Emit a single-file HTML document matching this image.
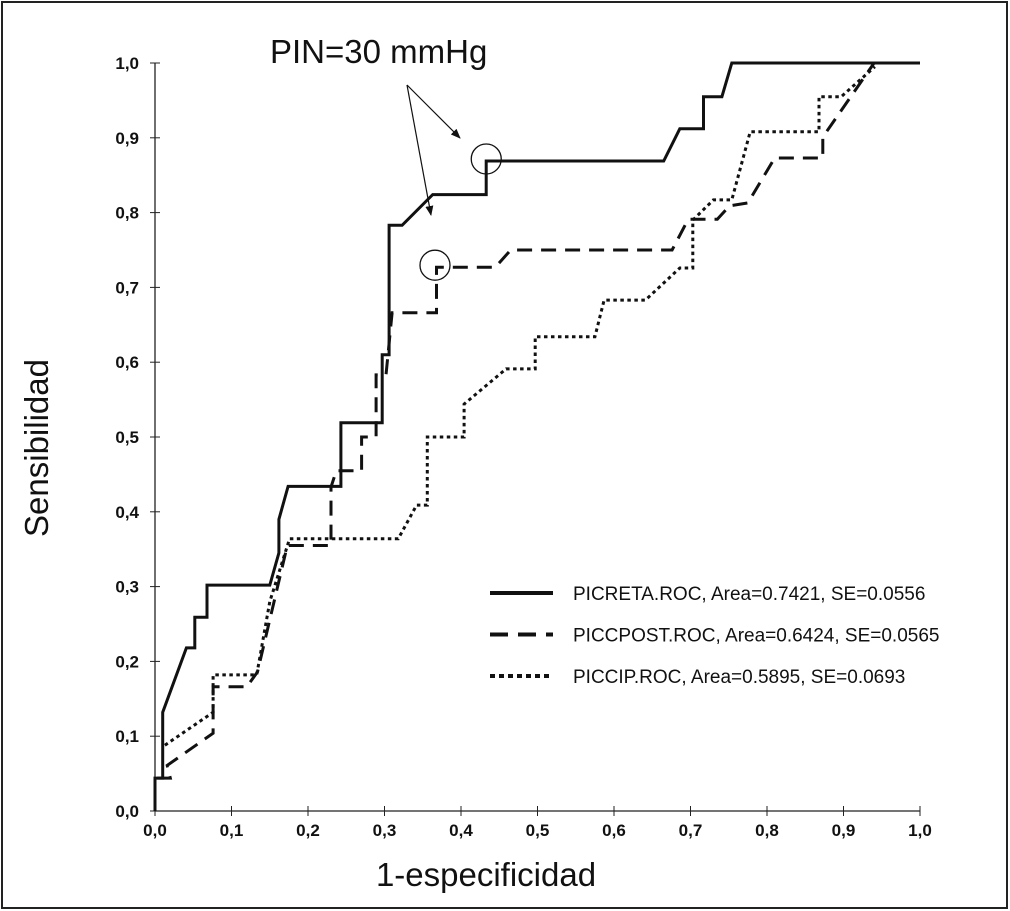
<!DOCTYPE html>
<html><head><meta charset="utf-8"><style>
html,body{margin:0;padding:0;background:#fff;}
svg{display:block;}
text{font-family:"Liberation Sans",Arial,sans-serif;}
</style></head><body>
<svg id="chart" width="1010" height="911" viewBox="0 0 1010 911" xmlns="http://www.w3.org/2000/svg">
<rect x="2" y="2" width="1005" height="906" fill="#fff" stroke="#222" stroke-width="2"/>
<g id="axes"></g>
<g id="series"></g>
<text x="270" y="63" font-size="33" fill="#111">PIN=30 mmHg</text>
<text x="0" y="0" transform="translate(48,448) rotate(-90)" text-anchor="middle" font-size="33" fill="#111">Sensibilidad</text>
<text x="486" y="886" text-anchor="middle" font-size="33" fill="#111">1-especificidad</text>
<g id="legend"></g>
</svg>
<script>
const xTicks=[0,0.1,0.2,0.3,0.4,0.5,0.6,0.7,0.8,0.9,1.0];
const yTicks=[0,0.1,0.2,0.3,0.4,0.5,0.6,0.7,0.8,0.9,1.0];
const seriesNames=["PICRETA.ROC, Area=0.7421, SE=0.0556","PICCPOST.ROC, Area=0.6424, SE=0.0565","PICCIP.ROC, Area=0.5895, SE=0.0693"];
const picretaX=[0,0,0.010,0.010,0.041,0.052,0.052,0.068,0.068,0.150,0.162,0.162,0.174,0.243,0.243,0.297,0.297,0.306,0.306,0.323,0.363,0.433,0.433,0.665,0.686,0.717,0.717,0.741,0.754,1];
const picretaY=[0,0.044,0.044,0.132,0.218,0.218,0.259,0.259,0.302,0.302,0.345,0.390,0.434,0.434,0.519,0.519,0.610,0.610,0.783,0.783,0.824,0.824,0.869,0.869,0.912,0.912,0.955,0.955,1,1];
const piccpostX=[0.003,0.020,0.016,0.076,0.076,0.120,0.134,0.173,0.230,0.230,0.237,0.270,0.270,0.289,0.289,0.302,0.310,0.368,0.368,0.445,0.465,0.676,0.697,0.735,0.751,0.775,0.810,0.873,0.873,0.940,1];
const piccpostY=[0.044,0.044,0.061,0.104,0.166,0.166,0.186,0.355,0.355,0.433,0.455,0.455,0.500,0.500,0.583,0.583,0.666,0.666,0.727,0.727,0.750,0.750,0.791,0.791,0.809,0.813,0.873,0.873,0.901,1,1];
const piccipX=[0.013,0.076,0.076,0.133,0.150,0.176,0.318,0.342,0.356,0.356,0.404,0.404,0.459,0.497,0.497,0.575,0.587,0.641,0.686,0.703,0.703,0.730,0.754,0.778,0.868,0.868,0.897,0.941];
const piccipY=[0.088,0.132,0.182,0.182,0.280,0.364,0.364,0.409,0.409,0.500,0.500,0.544,0.591,0.591,0.634,0.634,0.683,0.683,0.726,0.726,0.790,0.817,0.817,0.908,0.908,0.955,0.955,0.995];
const annoPoints=[[0.433,0.869],[0.366,0.727]];

const NS="http://www.w3.org/2000/svg";
const X0=155,X1=920,Y0=811,Y1=63;
function sx(v){return X0+(X1-X0)*v;}
function sy(v){return Y0-(Y0-Y1)*v;}
function mk(tag,attrs,parent){const e=document.createElementNS(NS,tag);for(const k in attrs)e.setAttribute(k,attrs[k]);parent.appendChild(e);return e;}
function fmt(v){return v.toFixed(1).replace('.',',');}
const axes=document.getElementById('axes');
let l=mk('line',{x1:X0,y1:Y0,x2:X1,y2:Y0,stroke:'#222','stroke-width':1.3},axes);


l=mk('line',{x1:X0,y1:Y0,x2:X0,y2:Y1,stroke:'#222','stroke-width':1.3},axes);


xTicks.forEach(v=>{
  const t=mk('line',{x1:sx(v),y1:Y0-5,x2:sx(v),y2:Y0+5,stroke:'#222','stroke-width':1},axes);
  
  
  const tx=mk('text',{x:sx(v),y:Y0+25,'text-anchor':'middle','font-size':17,'font-weight':'bold',fill:'#111'},axes);
  tx.textContent=fmt(v);
  
  
});
yTicks.forEach(v=>{
  const t=mk('line',{x1:X0-5,y1:sy(v),x2:X0+5,y2:sy(v),stroke:'#222','stroke-width':1},axes);
  
  
  const tx=mk('text',{x:X0-16,y:sy(v)+6,'text-anchor':'end','font-size':17,'font-weight':'bold',fill:'#111'},axes);
  tx.textContent=fmt(v);
  
  
});
const ser=document.getElementById('series');
const styles=[{w:3,d:''},{w:3,d:'15 9'},{w:3,d:'3.5 3.5'}];
const data=[[picretaX,picretaY,'picreta-line'],[piccpostX,piccpostY,'piccpost-line'],[piccipX,piccipY,'piccip-line']];
data.forEach((s,i)=>{
  const pts=s[0].map((x,j)=>sx(x).toFixed(1)+','+sy(s[1][j]).toFixed(1)).join(' ');
  const p=mk('polyline',{points:pts,fill:'none',stroke:'#111','stroke-width':styles[i].w,'stroke-dasharray':styles[i].d,'stroke-linejoin':'miter'},ser);
  
  
});
annoPoints.forEach((a,i)=>{
  const c=mk('circle',{cx:sx(a[0]),cy:sy(a[1])-2,r:15,fill:'none',stroke:'#111','stroke-width':1.3},ser);
  
  
});
const defs=mk('defs',{},document.getElementById('chart'));
const mkr=mk('marker',{id:'ah',markerWidth:10,markerHeight:8,refX:9,refY:4,orient:'auto',markerUnits:'userSpaceOnUse'},defs);
mk('path',{d:'M0,0 L10,4 L0,8 Z',fill:'#111'},mkr);
[[407,85,460,138],[407,85,431,215]].forEach(a=>{
  const ar=mk('line',{x1:a[0],y1:a[1],x2:a[2],y2:a[3],stroke:'#111','stroke-width':1.2,'marker-end':'url(#ah)'},ser);
  
  
});
const leg=document.getElementById('legend');
seriesNames.forEach((n,i)=>{
  const y=593+i*41.5;
  const ln=mk('line',{x1:490,y1:y,x2:553,y2:y,stroke:'#111','stroke-width':4,'stroke-dasharray':i==0?'':(i==1?'18 10':'5 4')},leg);
  
  
  const t=mk('text',{x:573,y:y+7,'font-size':19,fill:'#111'},leg);
  t.textContent=n;
  
  
});
</script>
</body></html>
